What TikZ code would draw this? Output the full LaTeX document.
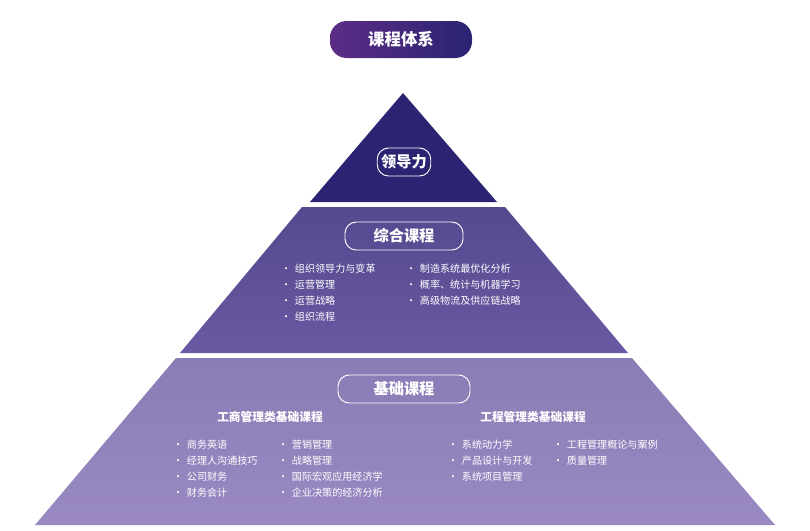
\documentclass[tikz,border=0pt]{standalone}
\usepackage{fontspec}
\setmainfont{Noto Sans CJK SC}
\usetikzlibrary{positioning}
\definecolor{topc}{HTML}{2A2472}
\definecolor{midtop}{HTML}{54498F}
\definecolor{midbot}{HTML}{6B58A2}
\definecolor{bottop}{HTML}{8A7CB6}
\definecolor{botbot}{HTML}{9A89C2}
\tikzset{
pill/.style={
	% white outlined rounded box
	rectangle, rounded corners=3.4mm,
	draw=white, thick,
	minimum height=8.4mm,
	text=white, font=\fontsize{13pt}{15pt}\selectfont\bfseries
},
item/.style={
	anchor=west, text=white, inner sep=0pt,
	font=\fontsize{8.6pt}{10pt}\selectfont
},
head/.style={
	text=white, font=\fontsize{10pt}{12pt}\selectfont\bfseries
}
}
\newcommand{\bul}{\textbullet\hspace{1.1mm}}
\begin{document}
\begin{tikzpicture}[x=0.03cm,y=-0.03cm]
			\useasboundingbox (0,0) rectangle (810,530);
			% title
			\node[rectangle, rounded corners=5mm, minimum width=142*0.03cm, minimum height=37*0.03cm,
				left color={rgb,255:red,92;green,44;blue,134}, right color={rgb,255:red,42;green,36;blue,114},
				text=white, font=\fontsize{14pt}{16pt}\selectfont\bfseries] (title) at (401,39.5) {课程体系};

			% the three layers
			\fill[topc] (403,93) -- (497,202) -- (310,202) -- cycle;
			\shade[top color=midtop, bottom color=midbot] (302,207) -- (505,207) -- (628,353) -- (180,353) -- cycle;
			\shade[top color=bottop, bottom color=botbot] (176,358) -- (632,358) -- (775,525) -- (35,525) -- cycle;

			\node[pill] (lead) at (404,162) {领导力};
			\node[pill, minimum width=118*0.03cm] (comp) at (404,236) {综合课程};
			\node[pill, minimum width=132*0.03cm] (base) at (404,389) {基础课程};

			% middle layer
			\node[item] (m1) at (281,269) {\bul 组织领导力与变革};
			\node[item] (m2) at (281,285) {\bul 运营管理};
			\node[item] (m3) at (281,301) {\bul 运营战略};
			\node[item] (m4) at (281,317) {\bul 组织流程};
			\node[item] (m5) at (406,269) {\bul 制造系统最优化分析};
			\node[item] (m6) at (406,285) {\bul 概率、统计与机器学习};
			\node[item] (m7) at (406,301) {\bul 高级物流及供应链战略};

			% bottom layer
			\node[head] (h1) at (270,417) {工商管理类基础课程};
			\node[head] (h2) at (533,417) {工程管理类基础课程};
			\node[item] (b1) at (173,445) {\bul 商务英语};
			\node[item] (b2) at (173,461) {\bul 经理人沟通技巧};
			\node[item] (b3) at (173,477) {\bul 公司财务};
			\node[item] (b4) at (173,493) {\bul 财务会计};
			\node[item] (b5) at (278,445) {\bul 营销管理};
			\node[item] (b6) at (278,461) {\bul 战略管理};
			\node[item] (b7) at (278,477) {\bul 国际宏观应用经济学};
			\node[item] (b8) at (278,493) {\bul 企业决策的经济分析};
			\node[item] (e1) at (448,445) {\bul 系统动力学};
			\node[item] (e2) at (448,461) {\bul 产品设计与开发};
			\node[item] (e3) at (448,477) {\bul 系统项目管理};
			\node[item] (e4) at (553,445) {\bul 工程管理概论与案例};
			\node[item] (e5) at (553,461) {\bul 质量管理};
		\end{tikzpicture}
\end{document}
